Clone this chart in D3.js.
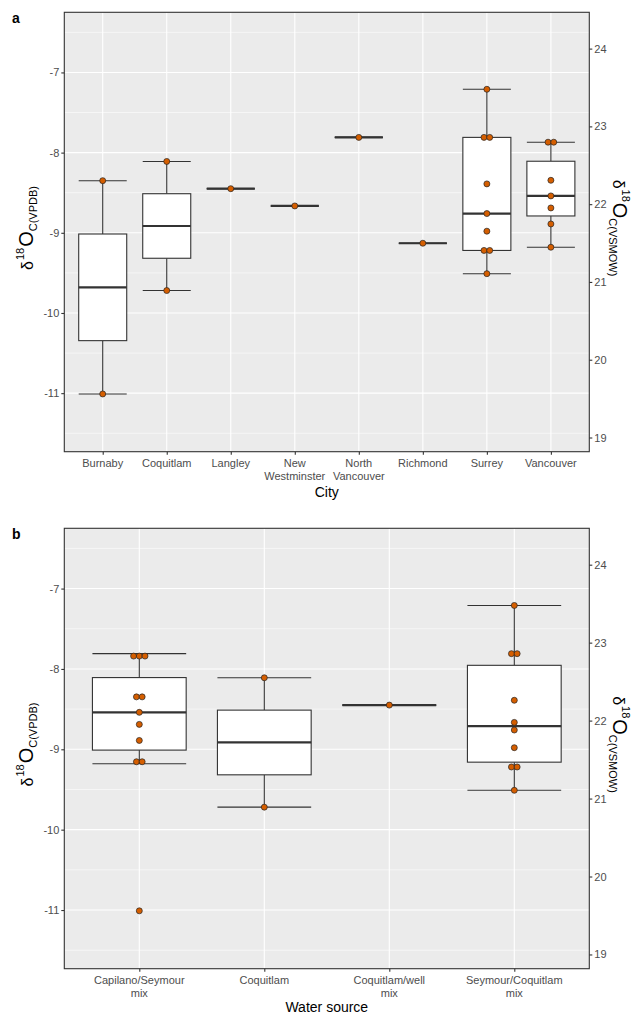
<!DOCTYPE html>
<html>
<head>
<meta charset="utf-8">
<script src="https://cdnjs.cloudflare.com/ajax/libs/d3/7.8.5/d3.min.js"></script>
<style>
  html, body { margin: 0; padding: 0; background: #fff; }
  svg { display: block; }
  text { font-family: "Liberation Sans", Arial, sans-serif; }
</style>
</head>
<body>
<svg id="chart" width="634" height="1013"></svg>
<script>
// ---------------- data ----------------
const cities = ["Burnaby", "Coquitlam", "Langley", "New\nWestminster", "North\nVancouver", "Richmond", "Surrey", "Vancouver"];
const burnaby = [-8.35, -11.01];
const coquitlam = [-8.11, -9.72];
const langley = [-8.45];
const newWestminster = [-8.665];
const northVancouver = [-7.81];
const richmond = [-9.13];
const surrey = [-7.21, -7.81, -7.81, -8.39, -8.76, -8.98, -9.22, -9.22, -9.51];
const vancouver = [-7.87, -7.87, -8.345, -8.54, -8.69, -8.89, -9.18];
const cityValues = [burnaby, coquitlam, langley, newWestminster, northVancouver, richmond, surrey, vancouver];

const sources = ["Capilano/Seymour\nmix", "Coquitlam", "Coquitlam/well\nmix", "Seymour/Coquitlam\nmix"];
const capilanoSeymour = [-7.81, -7.87, -7.87, -8.35, -8.345, -8.54, -8.69, -8.89, -9.13, -9.18, -11.01];
const coquitlamSrc = [-8.11, -9.72];
const coquitlamWell = [-8.45];
const seymourCoquitlam = [-7.21, -7.81, -7.81, -8.39, -8.665, -8.76, -8.98, -9.22, -9.22, -9.51];
const sourceValues = [capilanoSeymour, coquitlamSrc, coquitlamWell, seymourCoquitlam];

const yDomain = [-11.73, -6.25];
const leftTicks = [-11, -10, -9, -8, -7];
const rightTicks = [19, 20, 21, 22, 23, 24];
const minorTicks = [-11.5, -10.5, -9.5, -8.5, -7.5, -6.5];
// VSMOW = 1.03091 * VPDB + 30.91
const toVSMOW = v => 1.03091 * v + 30.91;

// ---------------- drawing ----------------
const svg = d3.select("#chart");
const L = 64.3, R = 589.3;
const tickCol = "#4d4d4d";

function panel(cfg) {
  const { top, bottom, cats, vals, letter, xTitle, xTitleY } = cfg;
  const g = svg.append("g");
  const y = d3.scaleLinear().domain(yDomain).range([bottom, top]);
  const yR = d3.scaleLinear().domain(yDomain.map(toVSMOW)).range([bottom, top]);
  const n = cats.length;
  const x = d3.scaleLinear().domain([0.4, n + 0.6]).range([L, R]);
  const unit = x(2) - x(1);
  const boxW = unit * 0.75;

  // background
  g.append("rect").attr("x", L).attr("y", top).attr("width", R - L).attr("height", bottom - top).attr("fill", "#ebebeb");
  // minor grid
  g.selectAll(".minor").data(minorTicks).join("line")
    .attr("x1", L).attr("x2", R).attr("y1", d => y(d)).attr("y2", d => y(d))
    .attr("stroke", "#fff").attr("stroke-width", 0.55);
  // major grid
  g.selectAll(".majorY").data(leftTicks).join("line")
    .attr("x1", L).attr("x2", R).attr("y1", d => y(d)).attr("y2", d => y(d))
    .attr("stroke", "#fff").attr("stroke-width", 1.1);
  g.selectAll(".majorX").data(d3.range(1, n + 1)).join("line")
    .attr("x1", d => x(d)).attr("x2", d => x(d)).attr("y1", top).attr("y2", bottom)
    .attr("stroke", "#fff").attr("stroke-width", 1.1);

  // boxplots
  cats.forEach((c, i) => {
    const v = vals[i].slice().sort(d3.ascending);
    const q1 = d3.quantile(v, 0.25), med = d3.quantile(v, 0.5), q3 = d3.quantile(v, 0.75);
    const iqr = q3 - q1;
    const inside = v.filter(d => d >= q1 - 1.5 * iqr && d <= q3 + 1.5 * iqr);
    const lo = d3.min(inside), hi = d3.max(inside);
    const cx = x(i + 1);
    const col = "#333";
    // whiskers
    g.append("line").attr("x1", cx).attr("x2", cx).attr("y1", y(hi)).attr("y2", y(q3)).attr("stroke", col).attr("stroke-width", 1.1);
    g.append("line").attr("x1", cx).attr("x2", cx).attr("y1", y(q1)).attr("y2", y(lo)).attr("stroke", col).attr("stroke-width", 1.1);
    [hi, lo].forEach(w => g.append("line").attr("x1", cx - boxW / 2).attr("x2", cx + boxW / 2)
      .attr("y1", y(w)).attr("y2", y(w)).attr("stroke", col).attr("stroke-width", 1.1));
    // box
    g.append("rect").attr("x", cx - boxW / 2).attr("width", boxW)
      .attr("y", y(q3)).attr("height", Math.max(0, y(q1) - y(q3)))
      .attr("fill", "#fff").attr("stroke", col).attr("stroke-width", 1.1);
    g.append("line").attr("x1", cx - boxW / 2).attr("x2", cx + boxW / 2)
      .attr("y1", y(med)).attr("y2", y(med)).attr("stroke", col).attr("stroke-width", 2.2);

    // dot plot (dot-density binning)
    const binW = 0.08;
    const bins = [];
    v.forEach(d => {
      const b = bins[bins.length - 1];
      if (b && d - b[0] <= binW) b.push(d); else bins.push([d]);
    });
    const sp = 5.7;
    bins.forEach(b => {
      const center = (b[0] + b[b.length - 1]) / 2;
      b.forEach((d, k) => {
        g.append("circle").attr("cx", cx + (k - (b.length - 1) / 2) * sp).attr("cy", y(center))
          .attr("r", 3).attr("fill", "#d55e00").attr("stroke", "#222").attr("stroke-width", 0.7);
      });
    });
  });

  // border
  g.append("rect").attr("x", L).attr("y", top).attr("width", R - L).attr("height", bottom - top)
    .attr("fill", "none").attr("stroke", "#333").attr("stroke-width", 1.1);

  const fmt = d => String(d);
  // left axis
  const la = g.append("g").attr("transform", `translate(${L},0)`)
    .call(d3.axisLeft(y).tickValues(leftTicks).tickSize(3).tickPadding(2).tickFormat(fmt));
  la.select(".domain").remove();
  la.selectAll(".tick line").attr("stroke", "#333").attr("stroke-width", 1.1);
  la.selectAll(".tick text").attr("fill", tickCol).style("font-size", "11px").style("font-family", "Liberation Sans, Arial, sans-serif");

  // right axis
  const ra = g.append("g").attr("transform", `translate(${R},0)`)
    .call(d3.axisRight(yR).tickValues(rightTicks).tickSize(3).tickPadding(2).tickFormat(fmt));
  ra.select(".domain").remove();
  ra.selectAll(".tick line").attr("stroke", "#333").attr("stroke-width", 1.1);
  ra.selectAll(".tick text").attr("fill", tickCol).style("font-size", "11px").style("font-family", "Liberation Sans, Arial, sans-serif");

  // bottom axis
  const ba = g.append("g").attr("transform", `translate(0,${bottom})`)
    .call(d3.axisBottom(x).tickValues(d3.range(1, n + 1)).tickSize(3).tickFormat(() => ""));
  ba.select(".domain").remove();
  ba.selectAll(".tick line").attr("stroke", "#333").attr("stroke-width", 1.1);
  cats.forEach((c, i) => {
    const t = g.append("text").attr("x", x(i + 1)).attr("y", bottom + 15.5)
      .attr("text-anchor", "middle").attr("fill", tickCol).style("font-size", "11px");
    c.split("\n").forEach((line, k) => {
      t.append("tspan").attr("x", x(i + 1)).attr("dy", k === 0 ? 0 : 12.8).text(line);
    });
  });
  g.append("text").attr("x", (L + R) / 2).attr("y", xTitleY).attr("text-anchor", "middle")
    .attr("fill", "#000").style("font-size", "14px").text(xTitle);

  // panel letter
  g.append("text").attr("x", 12).attr("y", top + 11).attr("fill", "#000")
    .style("font-size", "14px").style("font-weight", "bold").text(letter);

  // y titles
  const midY = (top + bottom) / 2 - 4;
  function yTitle(xp, rot, sub) {
    const t = g.append("text").attr("transform", `translate(${xp},${midY}) rotate(${rot})`)
      .attr("text-anchor", "middle").attr("fill", "#000");
    t.append("tspan").style("font-size", "16px").text("δ");
    t.append("tspan").style("font-size", "11px").attr("dx", 1).attr("dy", -9).text("18");
    t.append("tspan").style("font-size", "20px").attr("dx", 1).attr("dy", 9).text("O");
    t.append("tspan").style("font-size", "11px").attr("dy", 4).text(sub);
  }
  yTitle(33, -90, "C(VPDB)");
  yTitle(613, 90, "C(VSMOW)");
}

panel({ top: 12.3, bottom: 451.7, cats: cities, vals: cityValues, letter: "a", xTitle: "City", xTitleY: 496.5 });
panel({ top: 528.3, bottom: 968.7, cats: sources, vals: sourceValues, letter: "b", xTitle: "Water source", xTitleY: 1011.5 });
</script>
</body>
</html>
